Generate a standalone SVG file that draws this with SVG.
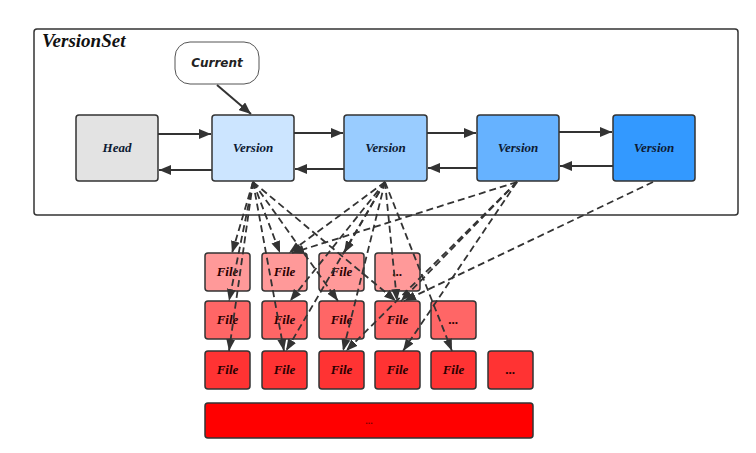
<svg xmlns="http://www.w3.org/2000/svg" width="756" height="453" viewBox="0 0 756 453">
<defs>
<marker id="ah" markerUnits="userSpaceOnUse" markerWidth="13" markerHeight="10" refX="12" refY="5" orient="auto">
<path d="M0,0 L12,5 L0,10 Z" fill="#333"/>
</marker>
<marker id="ahd" markerUnits="userSpaceOnUse" markerWidth="13" markerHeight="10" refX="12" refY="5" orient="auto">
<path d="M0,0.5 L12,5 L0,9.5 Z" fill="#333"/>
</marker>
<style>
.frame{fill:#fff;stroke:#333;stroke-width:1.5}
.node{stroke:#333;stroke-width:1.5}
.ver{font-family:"Liberation Serif",serif;font-weight:bold;font-style:italic;font-size:13px;fill:#0d1a33;text-anchor:middle}
.file{font-family:"Liberation Serif",serif;font-weight:bold;font-style:italic;font-size:13px;fill:#2a0000;text-anchor:middle}
.solid{stroke:#333;stroke-width:2;fill:none;marker-end:url(#ah)}
.dash{stroke:#333;stroke-width:1.8;fill:none;stroke-dasharray:7,4;marker-end:url(#ahd)}
.r1{fill:#ff9999}.r2{fill:#ff6666}.r3{fill:#ff3333}
</style>
</defs>
<rect width="756" height="453" fill="#fff"/>
<g id="versionset">
<rect class="frame" x="34" y="29" width="704" height="186" rx="3"/>
<text x="42" y="47" font-family="Liberation Serif,serif" font-weight="bold" font-style="italic" font-size="19" fill="#111">VersionSet</text>
</g>
<g id="current">
<rect x="175" y="42" width="84" height="42" rx="15" fill="#fff" stroke="#555" stroke-width="1"/>
<text x="217" y="67" font-family="DejaVu Sans,sans-serif" font-weight="bold" font-style="italic" font-size="12" fill="#222" text-anchor="middle">Current</text>
</g>
<g id="head"><rect class="node" x="76" y="115" width="82" height="66" rx="3" fill="#e3e3e3"/><text class="ver" x="117" y="152">Head</text></g>
<g id="version1"><rect class="node" x="212" y="115" width="82" height="66" rx="3" fill="#cce5ff"/><text class="ver" x="253" y="152">Version</text></g>
<g id="version2"><rect class="node" x="344" y="115" width="83" height="66" rx="3" fill="#99ccff"/><text class="ver" x="385.5" y="152">Version</text></g>
<g id="version3"><rect class="node" x="477" y="115" width="82" height="66" rx="3" fill="#66b2ff"/><text class="ver" x="518" y="152">Version</text></g>
<g id="version4"><rect class="node" x="613" y="115" width="82" height="66" rx="3" fill="#3399ff"/><text class="ver" x="654" y="152">Version</text></g>
<g id="files">
<g id="f11"><rect class="node r1" x="205" y="253" width="45" height="38" rx="3"/><text class="file" x="227.5" y="276">File</text></g>
<g id="f12"><rect class="node r1" x="262" y="253" width="45" height="38" rx="3"/><text class="file" x="284.5" y="276">File</text></g>
<g id="f13"><rect class="node r1" x="319" y="253" width="45" height="38" rx="3"/><text class="file" x="341.5" y="276">File</text></g>
<g id="f14"><rect class="node r1" x="375" y="253" width="45" height="38" rx="3"/><text class="file" x="397.5" y="276">...</text></g>
<g id="f21"><rect class="node r2" x="205" y="301" width="45" height="38" rx="3"/><text class="file" x="227.5" y="324">File</text></g>
<g id="f22"><rect class="node r2" x="262" y="301" width="45" height="38" rx="3"/><text class="file" x="284.5" y="324">File</text></g>
<g id="f23"><rect class="node r2" x="319" y="301" width="45" height="38" rx="3"/><text class="file" x="341.5" y="324">File</text></g>
<g id="f24"><rect class="node r2" x="375" y="301" width="45" height="38" rx="3"/><text class="file" x="397.5" y="324">File</text></g>
<g id="f25"><rect class="node r2" x="431" y="301" width="45" height="38" rx="3"/><text class="file" x="453.5" y="324">...</text></g>
<g id="f31"><rect class="node r3" x="205" y="351" width="45" height="38" rx="3"/><text class="file" x="227.5" y="374">File</text></g>
<g id="f32"><rect class="node r3" x="262" y="351" width="45" height="38" rx="3"/><text class="file" x="284.5" y="374">File</text></g>
<g id="f33"><rect class="node r3" x="319" y="351" width="45" height="38" rx="3"/><text class="file" x="341.5" y="374">File</text></g>
<g id="f34"><rect class="node r3" x="375" y="351" width="45" height="38" rx="3"/><text class="file" x="397.5" y="374">File</text></g>
<g id="f35"><rect class="node r3" x="431" y="351" width="45" height="38" rx="3"/><text class="file" x="453.5" y="374">File</text></g>
<g id="f36"><rect class="node r3" x="488" y="351" width="45" height="38" rx="3"/><text class="file" x="510.5" y="374">...</text></g>
<g id="bar"><rect class="node" x="205" y="403" width="328" height="35" rx="3" fill="#ff0000"/><text x="369" y="424" font-family="Liberation Sans,sans-serif" font-weight="bold" font-size="9" fill="#7a0000" text-anchor="middle">...</text></g>
</g>
<g id="connectors">
<line class="solid" x1="217" y1="85" x2="251" y2="114"/>
<line class="solid" x1="158" y1="134" x2="211" y2="134"/>
<line class="solid" x1="212" y1="170" x2="159" y2="170"/>
<line class="solid" x1="294" y1="133" x2="343" y2="133"/>
<line class="solid" x1="344" y1="169" x2="295" y2="169"/>
<line class="solid" x1="427" y1="133" x2="476" y2="133"/>
<line class="solid" x1="477" y1="168" x2="428" y2="168"/>
<line class="solid" x1="559" y1="132" x2="612" y2="132"/>
<line class="solid" x1="613" y1="166" x2="560" y2="166"/>
<line class="dash" x1="253" y1="182" x2="232" y2="253"/>
<line class="dash" x1="253" y1="182" x2="229" y2="301"/>
<line class="dash" x1="253" y1="182" x2="229" y2="351"/>
<line class="dash" x1="253" y1="182" x2="280" y2="253"/>
<line class="dash" x1="253" y1="182" x2="284" y2="351"/>
<line class="dash" x1="253" y1="182" x2="338" y2="301"/>
<line class="dash" x1="253" y1="182" x2="396" y2="301"/>
<line class="dash" x1="385" y1="182" x2="289" y2="253"/>
<line class="dash" x1="385" y1="182" x2="344" y2="253"/>
<line class="dash" x1="385" y1="182" x2="290" y2="301"/>
<line class="dash" x1="385" y1="182" x2="286" y2="351"/>
<line class="dash" x1="385" y1="182" x2="343" y2="351"/>
<line class="dash" x1="385" y1="182" x2="397" y2="301"/>
<line class="dash" x1="385" y1="182" x2="452" y2="351"/>
<line class="dash" x1="517" y1="182" x2="292" y2="253"/>
<line class="dash" x1="517" y1="182" x2="401" y2="301"/>
<line class="dash" x1="517" y1="182" x2="346" y2="351"/>
<line class="dash" x1="517" y1="182" x2="403" y2="351"/>
<line class="dash" x1="653" y1="182" x2="404" y2="301"/>
</g>
</svg>
